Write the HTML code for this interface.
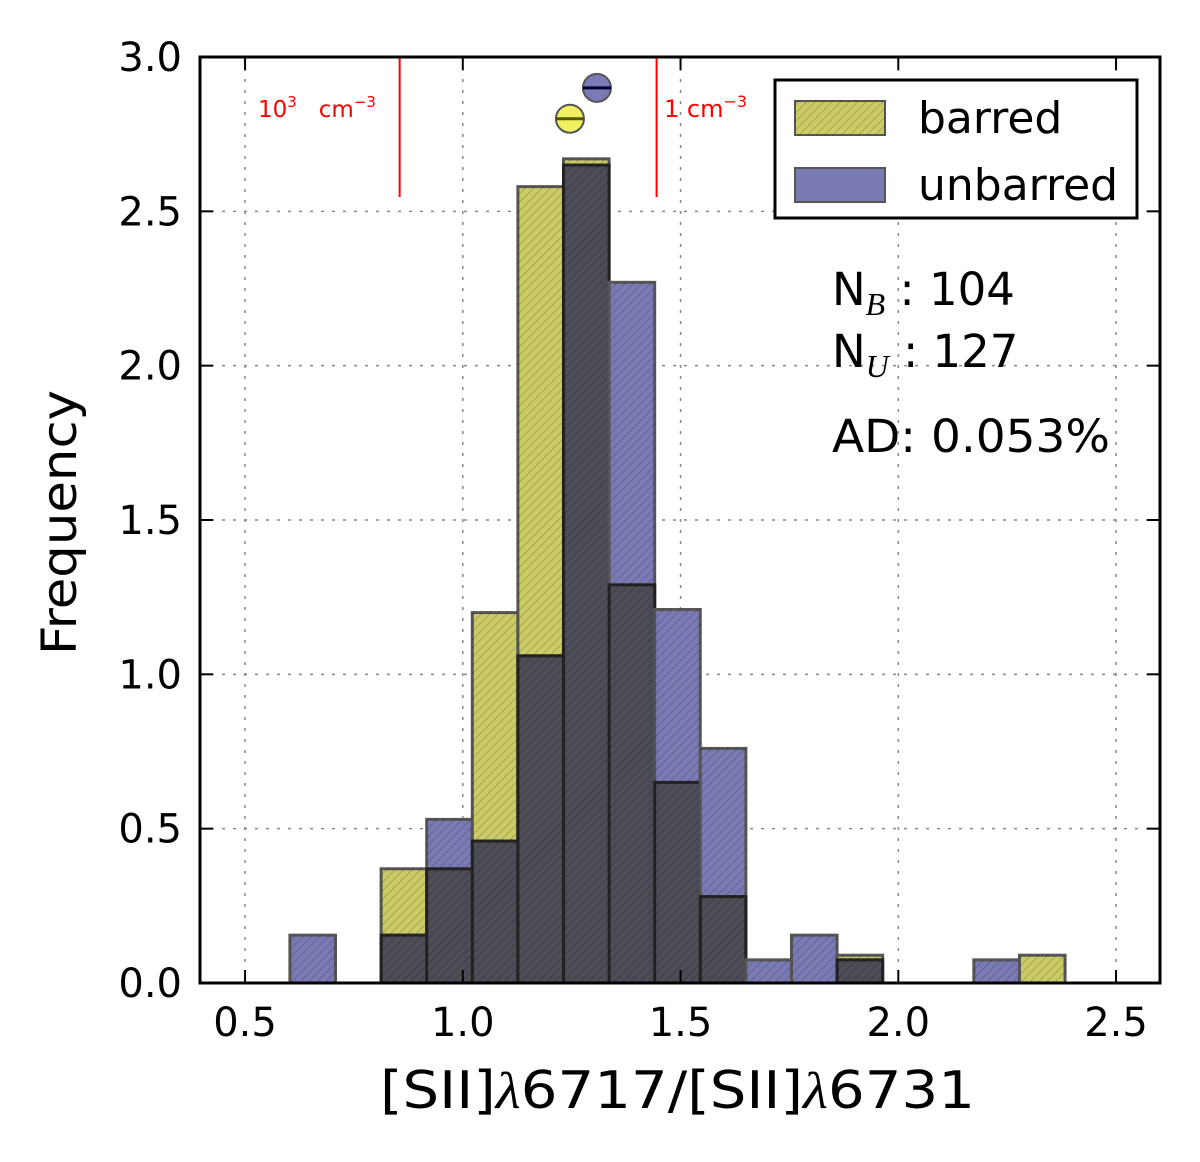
<!DOCTYPE html>
<html><head><meta charset="utf-8"><style>
body{margin:0;background:#fff}
svg text{font-family:"DejaVu Sans","Liberation Sans",sans-serif}
</style></head><body>
<svg id="chart" width="1200" height="1157" xmlns="http://www.w3.org/2000/svg">
<defs>
<pattern id="hatch" width="6" height="6" patternUnits="userSpaceOnUse" patternTransform="rotate(45)">
<line x1="0" y1="0" x2="0" y2="6" stroke="#000" stroke-opacity="0.25" stroke-width="1.5"/>
</pattern>
</defs>
<g id="grid"></g>
<g id="bars"></g>
<g id="marks"></g>
<rect x="200" y="57" width="960" height="926" fill="none" stroke="#000" stroke-width="3"/>
<g id="ticks"></g>
<text x="380" y="1108" font-size="52" textLength="595" lengthAdjust="spacingAndGlyphs">[SII]<tspan font-family="Liberation Serif" font-style="italic">λ</tspan>6717/[SII]<tspan font-family="Liberation Serif" font-style="italic">λ</tspan>6731</text>
<text transform="translate(76,655) rotate(-90)" font-size="48" textLength="265" lengthAdjust="spacingAndGlyphs">Frequency</text>
<text x="258" y="117" font-size="23" fill="red">10<tspan dy="-10" font-size="15">3</tspan><tspan dy="10" xml:space="preserve">   cm</tspan><tspan dy="-10" font-size="15">−3</tspan></text>
<text x="664" y="117" font-size="24" fill="red">1 cm<tspan dy="-10" font-size="16">−3</tspan></text>
<g>
<rect x="775" y="80" width="362" height="138" fill="#fff" stroke="#000" stroke-width="3"/>
<g>
<rect x="795" y="101" width="90" height="34" fill="#cccc66" stroke="#555" stroke-width="2"/>
<rect x="795" y="101" width="90" height="34" fill="url(#hatch)"/>
<text x="918" y="133" font-size="44">barred</text></g>
<g>
<rect x="795" y="168" width="90" height="34" fill="#7a7ab5" stroke="#555" stroke-width="2"/>
<text x="918" y="200" font-size="44">unbarred</text></g>
</g>
<text x="832" y="305" font-size="45">N<tspan dy="10" font-size="32" font-family="Liberation Serif" font-style="italic">B</tspan><tspan dy="-10" xml:space="preserve"> : 104</tspan></text>
<text x="832" y="367" font-size="45">N<tspan dy="10" font-size="32" font-family="Liberation Serif" font-style="italic">U</tspan><tspan dy="-10" xml:space="preserve"> : 127</tspan></text>
<text x="832" y="452" font-size="45" textLength="278" lengthAdjust="spacingAndGlyphs">AD: 0.053%</text>
</svg>
<script>
const binStart = 0.603;
const binWidth = 0.1047;
const barred   = [0,0,0.37,0.37,1.20,2.58,2.67,1.29,0.65,0.28,0,0,0.09,0,0,0,0.09];
const unbarred = [0.155,0,0.155,0.53,0.46,1.06,2.65,2.27,1.21,0.76,0.075,0.155,0.075,0,0,0.075,0];
const xTicks = [0.5,1.0,1.5,2.0,2.5];
const xTickLabels = ["0.5","1.0","1.5","2.0","2.5"];
const yTicks = [0,0.5,1.0,1.5,2.0,2.5,3.0];
const yTickLabels = ["0.0","0.5","1.0","1.5","2.0","2.5","3.0"];
const densityLines = [0.855, 1.445];
const meanBarred = [1.246, 2.8];
const meanUnbarred = [1.308, 2.9];

const X = v => 201.5 + (v - 0.4) * 435.5;
const Y = v => 983 - v * 308.67;
const NS = "http://www.w3.org/2000/svg";
function mk(tag, attrs, parent){const e=document.createElementNS(NS,tag);for(const k in attrs)e.setAttribute(k,attrs[k]);parent.appendChild(e);return e;}
const grid=document.getElementById('grid'), bars=document.getElementById('bars'), marks=document.getElementById('marks'), ticks=document.getElementById('ticks');

xTicks.forEach((t,i)=>{
  const g=mk('line',{x1:X(t),x2:X(t),y1:57,y2:983,stroke:'#888','stroke-width':1.5,'stroke-dasharray':'3,8'},grid);
  
  
  mk('line',{x1:X(t),x2:X(t),y1:983,y2:970,stroke:'#000','stroke-width':2},ticks);
  mk('line',{x1:X(t),x2:X(t),y1:57,y2:70,stroke:'#000','stroke-width':2},ticks);
  const l=mk('text',{x:X(t),y:1036,'font-size':40,'text-anchor':'middle'},ticks);
  l.textContent=xTickLabels[i];
  
  
});
yTicks.forEach((t,i)=>{
  const g=mk('line',{x1:200,x2:1160,y1:Y(t),y2:Y(t),stroke:'#888','stroke-width':1.5,'stroke-dasharray':'3,8'},grid);
  
  
  mk('line',{x1:200,x2:213,y1:Y(t),y2:Y(t),stroke:'#000','stroke-width':2},ticks);
  mk('line',{x1:1147,x2:1160,y1:Y(t),y2:Y(t),stroke:'#000','stroke-width':2},ticks);
  const l=mk('text',{x:182,y:Y(t)+14,'font-size':40,'text-anchor':'end'},ticks);
  l.textContent=yTickLabels[i];
  
  
});
function bar(v,i,fill,name){
  if(v<=0)return;
  const x0=X(binStart+i*binWidth), x1=X(binStart+(i+1)*binWidth);
  const r=mk('rect',{x:x0,y:Y(v),width:x1-x0,height:Y(0)-Y(v),fill:fill,stroke:'#555','stroke-width':3},bars);
  
  
  mk('rect',{x:x0,y:Y(v),width:x1-x0,height:Y(0)-Y(v),fill:'url(#hatch)'},bars);
}
barred.forEach((v,i)=>{
  bar(v,i,'#cccc66','bar-barred');
  bar(unbarred[i],i,'#7a7ab5','bar-unbarred');
  const m=Math.min(v,unbarred[i]);
  if(m>0){
    const x0=X(binStart+i*binWidth), x1=X(binStart+(i+1)*binWidth);
    const o=mk('rect',{x:x0,y:Y(m),width:x1-x0,height:Y(0)-Y(m),fill:'#4d4d57',stroke:'#222','stroke-width':3},bars);
    
    
    mk('rect',{x:x0,y:Y(m),width:x1-x0,height:Y(0)-Y(m),fill:'url(#hatch)'},bars);
  }
});
densityLines.forEach(d=>{
  const l=mk('line',{x1:X(d),x2:X(d),y1:57,y2:197,stroke:'red','stroke-width':2},marks);
  
  
});
[[meanBarred,'#f0f060','#555500','mean-marker-barred'],[meanUnbarred,'#7a7ab5','#000033','mean-marker-unbarred']].forEach(([p,f,s,n])=>{
  const c=mk('circle',{cx:X(p[0]),cy:Y(p[1]),r:14,fill:f,stroke:'#555','stroke-width':2},marks);
  
  
  mk('line',{x1:X(p[0])-14,x2:X(p[0])+14,y1:Y(p[1]),y2:Y(p[1]),stroke:s,'stroke-width':3},marks);
});
</script>
</body></html>
